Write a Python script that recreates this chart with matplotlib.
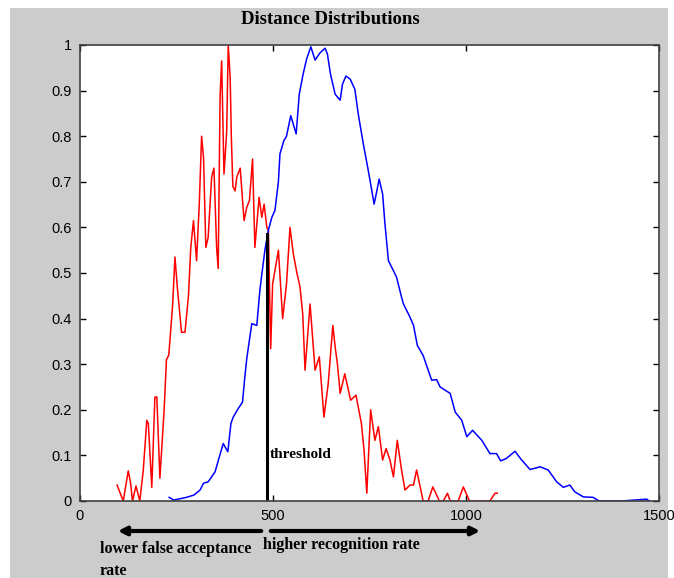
import numpy as np
import matplotlib
matplotlib.use("Agg")
import matplotlib.pyplot as plt

# 数据
红x = [96, 112, 125, 131, 136, 145, 155, 164, 173, 177, 186, 194, 199, 207, 218, 224, 230, 240, 246,
       252, 263, 272, 281, 287, 294, 302, 309, 315, 320, 326, 332, 341, 347, 354, 358, 363, 367, 373,
       380, 384, 389, 392, 396, 402, 406, 415, 425, 432, 439, 447, 453, 464, 471, 477, 484, 488, 494,
       499, 505, 514, 525, 535, 544, 553, 562, 570, 577, 583, 596, 609, 620, 632, 643, 655, 661, 667,
       674, 686, 701, 715, 729, 736, 743, 753, 764, 773, 784, 793, 803, 812, 822, 833, 842, 855, 864,
       872, 889, 902, 914, 931, 941, 952, 959, 980, 993, 1009, 1062, 1075, 1081]
红y = [0.035, 0, 0.066, 0.04, 0, 0.033, 0, 0.068, 0.177, 0.17, 0.03, 0.228, 0.228, 0.05, 0.2, 0.31, 0.32,
       0.43, 0.535, 0.47, 0.37, 0.37, 0.45, 0.556, 0.615, 0.527, 0.651, 0.80, 0.753, 0.556, 0.578, 0.71,
       0.73, 0.556, 0.51, 0.89, 0.965, 0.717, 0.81, 1.0, 0.93, 0.80, 0.69, 0.68, 0.71, 0.73, 0.615, 0.644,
       0.659, 0.75, 0.556, 0.666, 0.622, 0.651, 0.60, 0.594, 0.334, 0.476, 0.505, 0.55, 0.40, 0.476, 0.60,
       0.54, 0.50, 0.469, 0.41, 0.287, 0.432, 0.287, 0.316, 0.184, 0.257, 0.385, 0.338, 0.30, 0.236, 0.279,
       0.221, 0.232, 0.17, 0.11, 0.017, 0.2, 0.133, 0.163, 0.09, 0.115, 0.09, 0.053, 0.133, 0.068, 0.024,
       0.035, 0.035, 0.068, 0, 0, 0.031, 0, 0, 0.017, 0, 0, 0.031, 0, 0, 0.017, 0.017]

蓝x = [231, 243, 276, 295, 311, 320, 332, 350, 361, 371, 383, 391, 397, 408, 421, 427, 432, 445, 458,
       466, 470, 479, 488, 497, 505, 514, 518, 528, 535, 546, 560, 568, 578, 587, 598, 609, 622, 635,
       641, 649, 661, 674, 680, 689, 700, 712, 721, 734, 747, 753, 762, 769, 775, 784, 790, 799, 812,
       820, 833, 838, 855, 864, 874, 889, 911, 924, 933, 959, 972, 989, 1002, 1017, 1041, 1062, 1079,
       1090, 1104, 1127, 1144, 1166, 1192, 1213, 1235, 1252, 1269, 1282, 1304, 1329, 1345, 1371, 1402,
       1468, 1475]
蓝y = [0.008, 0.002, 0.008, 0.013, 0.024, 0.039, 0.042, 0.064, 0.097, 0.126, 0.108, 0.17, 0.184, 0.2,
       0.217, 0.272, 0.312, 0.389, 0.385, 0.462, 0.49, 0.55, 0.594, 0.622, 0.637, 0.70, 0.761, 0.79, 0.80,
       0.845, 0.805, 0.892, 0.936, 0.969, 0.996, 0.967, 0.983, 0.993, 0.98, 0.936, 0.892, 0.879, 0.914,
       0.932, 0.925, 0.903, 0.848, 0.783, 0.724, 0.695, 0.651, 0.68, 0.706, 0.673, 0.608, 0.527, 0.505,
       0.491, 0.447, 0.432, 0.403, 0.385, 0.341, 0.319, 0.265, 0.266, 0.25, 0.236, 0.195, 0.177, 0.141,
       0.155, 0.133, 0.104, 0.104, 0.088, 0.093, 0.109, 0.09, 0.069, 0.075, 0.068, 0.042, 0.03, 0.035,
       0.02, 0.009, 0.008, 0, 0, 0, 0.004, 0]

阈值x = 484
阈值y = 0.585
x刻度 = [0, 500, 1000, 1500]
y刻度 = [0, 0.1, 0.2, 0.3, 0.4, 0.5, 0.6, 0.7, 0.8, 0.9, 1]
y刻度标签 = ["0", "0.1", "0.2", "0.3", "0.4", "0.5", "0.6", "0.7", "0.8", "0.9", "1"]

W, H = 674, 578
fig = plt.figure(figsize=(W / 100, H / 100), dpi=100, facecolor="white")
# 灰色背景
fig.patches.append(plt.Rectangle((10 / W, 0), 658 / W, 570 / H, transform=fig.transFigure,
                                 facecolor="#cccccc", edgecolor="none", zorder=-10))

ax = fig.add_axes([80 / W, (H - 501) / H, 579 / W, 456 / H])
ax.set_zorder(2)
ax.set_facecolor("white")
ax.plot(红x, 红y, color="red", lw=1.1)
ax.plot(蓝x, 蓝y, color="blue", lw=1.1)
ax.plot([阈值x, 阈值x], [0, 阈值y], color="black", lw=2.2)
ax.text(阈值x + 8, 0.095, "threshold", family="Liberation Serif", weight="bold", fontsize=11)

ax.set_xlim(0, 1500)
ax.set_ylim(0, 1)
ax.set_xticks(x刻度)
ax.set_yticks(y刻度)
ax.set_yticklabels(y刻度标签)
ax.tick_params(direction="in", top=True, right=True, length=4, width=1,
               labelsize=10.5, pad=6, colors="black")
for t in ax.get_xticklabels() + ax.get_yticklabels():
    t.set_family("Liberation Sans")
for s in ax.spines.values():
    s.set_color("#404040")
    s.set_linewidth(1.2)

# 标题
fig.text(330 / W, (H - 20) / H, "Distance Distributions", ha="center", va="center",
         family="Liberation Serif", weight="bold", fontsize=13.5)

# 箭头
ay = (H - 531) / H
fig.add_artist(matplotlib.patches.FancyArrowPatch((264 / W, ay), (115 / W, ay), transform=fig.transFigure,
               arrowstyle="-|>", mutation_scale=12, lw=3, color="black", zorder=5))
fig.add_artist(matplotlib.patches.FancyArrowPatch((268 / W, ay), (483 / W, ay), transform=fig.transFigure,
               arrowstyle="-|>", mutation_scale=12, lw=3, color="black", zorder=5))

fig.text(100 / W, (H - 549) / H, "lower false acceptance", ha="left", va="center",
         family="Liberation Serif", weight="bold", fontsize=11.5)
fig.text(100 / W, (H - 571) / H, "rate", ha="left", va="center",
         family="Liberation Serif", weight="bold", fontsize=11.5)
fig.text(263 / W, (H - 545) / H, "higher recognition rate", ha="left", va="center",
         family="Liberation Serif", weight="bold", fontsize=11.5)

fig.savefig("out.png", dpi=100, facecolor="white")
